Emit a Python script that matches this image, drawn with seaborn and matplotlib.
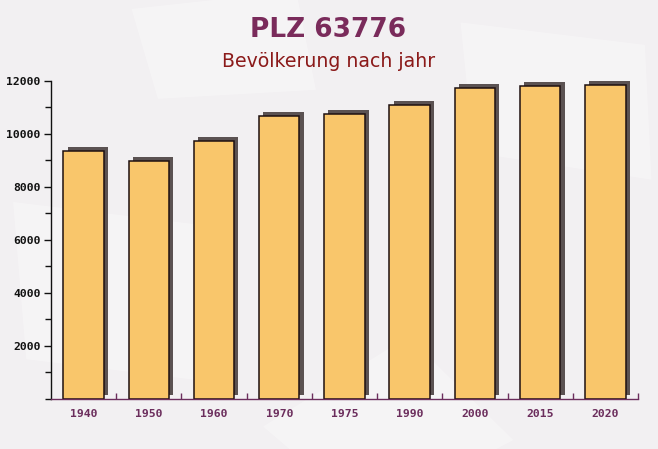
import matplotlib
matplotlib.use("Agg")
import matplotlib.pyplot as plt
import matplotlib.patheffects as pe
from matplotlib.ticker import MultipleLocator
from matplotlib.patches import Polygon
import seaborn as sns
import pandas as pd

years = ["1940", "1950", "1960", "1970", "1975", "1990", "2000", "2015", "2020"]
population = [9350, 8980, 9740, 10680, 10760, 11100, 11730, 11810, 11850]
title = "PLZ 63776"
subtitle = "Bevölkerung nach jahr"

df = pd.DataFrame({"year": years, "pop": population})

sns.set_theme(style="white")
plt.rcParams["font.family"] = ["DejaVu Sans"]

bg = "#F2F0F2"
fig = plt.figure(figsize=(6.58, 4.49), dpi=100, facecolor=bg)
ax = fig.add_axes([0.0775, 0.1114, 0.8921, 0.7082])
ax.set_facecolor("none")

# decorative faint background shapes
shapes = [
    [(0.02, 0.55), (0.30, 0.50), (0.32, 0.15), (0.04, 0.20)],
    [(0.40, 0.05), (0.62, 0.25), (0.78, 0.02), (0.56, -0.15)],
    [(0.70, 0.95), (0.98, 0.90), (0.99, 0.60), (0.72, 0.66)],
    [(0.20, 0.98), (0.45, 1.02), (0.48, 0.80), (0.24, 0.78)],
]
for s in shapes:
    fig.patches.append(Polygon(s, closed=True, transform=fig.transFigure,
                               facecolor="white", alpha=0.3, edgecolor="none",
                               zorder=-5))

sns.barplot(data=df, x="year", y="pop", ax=ax, color="#F9C66B", width=0.62,
            saturation=1, edgecolor="#1E1010", linewidth=1.1)
for p in ax.patches:
    p.set_path_effects([pe.SimplePatchShadow(offset=(3, 3), shadow_rgbFace="#5B5252",
                                             alpha=1.0),
                        pe.Normal()])

ax.set_xlim(-0.5, len(years) - 0.5)
ax.set_ylim(0, 12000)
ax.set_xlabel("")
ax.set_ylabel("")

for side in ["top", "right"]:
    ax.spines[side].set_visible(False)
ax.spines["left"].set_color("#111111")
ax.spines["bottom"].set_color("#6B2D5C")
ax.spines["left"].set_linewidth(1.0)
ax.spines["bottom"].set_linewidth(1.0)

ax.yaxis.set_minor_locator(MultipleLocator(1000))
ax.set_yticks([2000, 4000, 6000, 8000, 10000, 12000])
ax.set_yticklabels(["2000", "4000", "6000", "8000", "10000", "12000"],
                   fontfamily="DejaVu Sans Mono", fontweight="bold", fontsize=8.2,
                   color="#111111")
ax.tick_params(axis="y", which="major", length=5, width=1, color="#111111",
               left=True, pad=2.5)
ax.tick_params(axis="y", which="minor", length=4, width=1, color="#111111", left=True)

ax.set_xticks(range(len(years)))
ax.set_xticklabels(years, fontfamily="DejaVu Sans Mono", fontweight="bold",
                   fontsize=8.2, color="#6B2D5C")
ax.tick_params(axis="x", which="major", length=0, pad=7)
ax.set_xticks([i + 0.5 for i in range(len(years))], minor=True)
ax.tick_params(axis="x", which="minor", length=4, width=1, color="#6B2D5C",
               bottom=True, direction="in")

fig.text(0.4985, 0.933, title, ha="center", va="center", fontsize=19,
         fontweight="bold", color="#7A2B5B")
fig.text(0.5, 0.862, subtitle, ha="center", va="center", fontsize=13.6,
         color="#8B1A1A")

fig.savefig("out.png", dpi=100, facecolor=bg)
